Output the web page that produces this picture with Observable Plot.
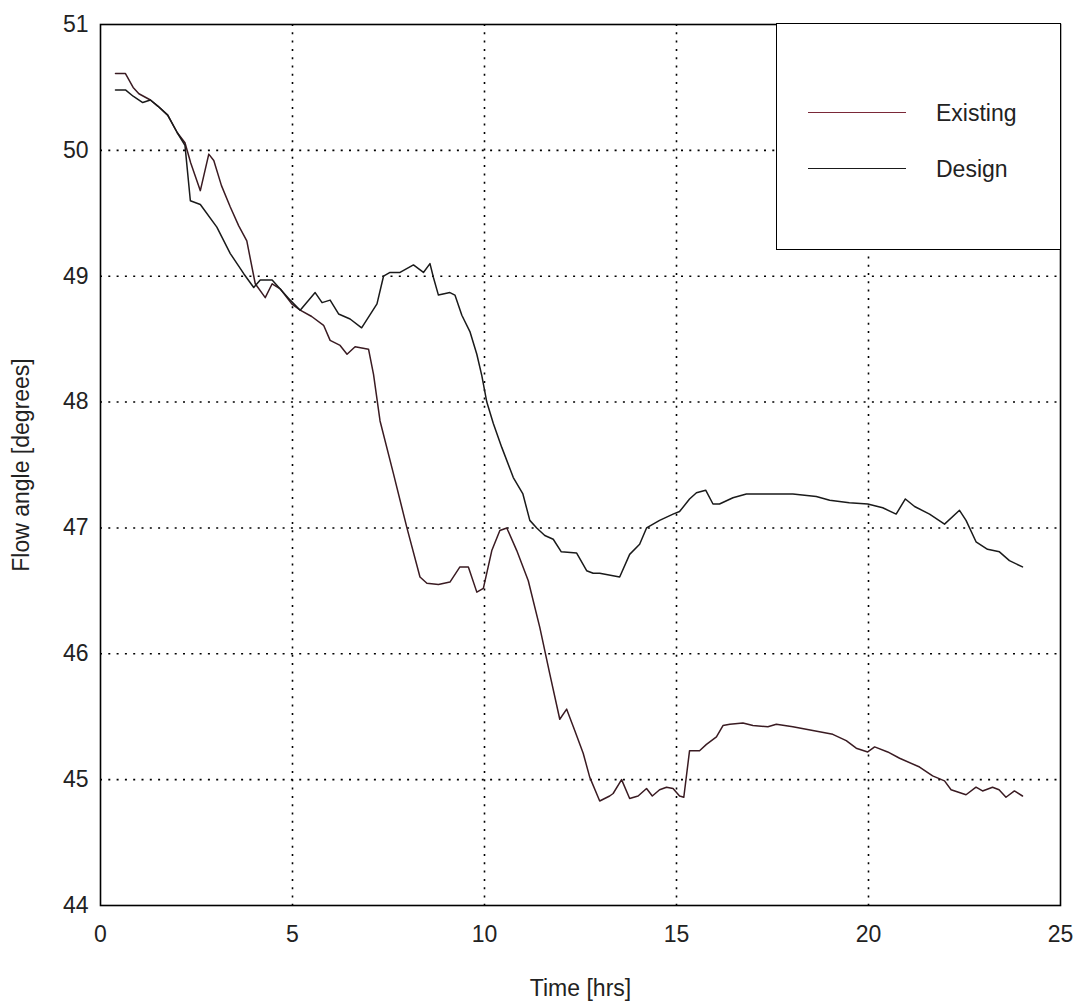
<!DOCTYPE html>
<html>
<head>
<meta charset="utf-8">
<script src="https://cdn.jsdelivr.net/npm/d3@7"></script>
<script src="https://cdn.jsdelivr.net/npm/@observablehq/plot@0.6"></script>
<style>
  html, body { margin: 0; padding: 0; background: #fff; }
  #wrap { position: relative; width: 1076px; height: 1001px; font-family: "Liberation Sans", Arial, sans-serif; }
  #legend { position: absolute; left: 776px; top: 23px; width: 285px; height: 227px; border: 1.6px solid #000; background: #fff; box-sizing: border-box; }
  .lg-row { position: absolute; left: 0; height: 30px; }
  .lg-line { position: absolute; left: 31px; width: 98px; top: 14px; height: 0; border-top: 1.5px solid #000; }
  .lg-text { position: absolute; left: 159px; top: 0; font-size: 23px; line-height: 30px; color: #222; white-space: nowrap; }
</style>
</head>
<body>
<div id="wrap">
  <div id="chart"></div>
  <div id="legend"></div>
</div>
<script>
// ---- data ----
const seriesNames = ["Existing", "Design"];
const seriesColors = ["#3a1b22", "#1a1a1a"];
const legendColors = ["#7a2838", "#1a1a1a"];

const existingTime = [0.39,0.65,0.85,1.0,1.3,1.5,1.75,2.0,2.2,2.35,2.6,2.82,2.95,3.15,3.38,3.6,3.81,4.03,4.29,4.47,4.68,4.98,5.2,5.5,5.81,5.98,6.24,6.42,6.63,6.98,7.11,7.28,7.63,7.98,8.32,8.5,8.8,9.1,9.36,9.58,9.8,9.97,10.19,10.4,10.58,10.84,11.14,11.44,11.7,11.96,12.14,12.35,12.57,12.74,13.0,13.26,13.35,13.57,13.78,14.0,14.22,14.37,14.56,14.74,14.91,15.08,15.19,15.34,15.6,15.78,16.04,16.21,16.39,16.73,16.99,17.38,17.6,18.03,18.55,19.07,19.42,19.68,19.98,20.16,20.5,20.81,21.33,21.67,21.98,22.15,22.54,22.8,22.97,23.23,23.4,23.58,23.8,24.01];
const existingAngle = [50.61,50.61,50.5,50.45,50.4,50.35,50.28,50.14,50.06,49.9,49.68,49.97,49.92,49.72,49.55,49.4,49.28,48.94,48.83,48.94,48.9,48.78,48.73,48.68,48.61,48.49,48.45,48.38,48.44,48.42,48.22,47.85,47.43,47.0,46.61,46.56,46.55,46.57,46.69,46.69,46.49,46.52,46.82,46.98,47.0,46.82,46.58,46.21,45.84,45.48,45.56,45.39,45.21,45.02,44.83,44.87,44.89,45.0,44.85,44.87,44.93,44.87,44.92,44.94,44.93,44.87,44.86,45.23,45.23,45.28,45.34,45.43,45.44,45.45,45.43,45.42,45.44,45.42,45.39,45.36,45.31,45.25,45.22,45.26,45.22,45.17,45.1,45.03,44.99,44.92,44.88,44.94,44.91,44.94,44.92,44.86,44.91,44.87];

const designTime = [0.39,0.65,0.85,1.1,1.3,1.5,1.75,2.0,2.2,2.34,2.6,3.03,3.38,3.73,3.99,4.16,4.47,4.94,5.2,5.59,5.77,5.98,6.2,6.5,6.8,7.2,7.37,7.54,7.8,8.15,8.41,8.58,8.67,8.8,9.1,9.23,9.41,9.62,9.8,9.93,10.06,10.23,10.45,10.75,11.0,11.18,11.36,11.57,11.79,12.0,12.4,12.66,12.83,13.0,13.52,13.78,14.04,14.22,14.56,14.91,15.08,15.34,15.52,15.76,15.95,16.12,16.47,16.82,17.4,18.03,18.64,18.99,19.5,19.98,20.37,20.72,20.96,21.2,21.59,21.98,22.37,22.54,22.8,23.1,23.41,23.67,24.01];
const designAngle = [50.48,50.48,50.43,50.38,50.4,50.35,50.28,50.14,50.04,49.6,49.57,49.39,49.18,49.02,48.91,48.97,48.97,48.81,48.73,48.87,48.79,48.81,48.7,48.66,48.59,48.78,49.0,49.03,49.03,49.09,49.03,49.1,48.99,48.85,48.87,48.85,48.69,48.56,48.38,48.21,48.0,47.83,47.64,47.4,47.27,47.06,47.0,46.94,46.91,46.81,46.8,46.66,46.64,46.64,46.61,46.79,46.87,47.0,47.06,47.11,47.13,47.23,47.28,47.3,47.19,47.19,47.24,47.27,47.27,47.27,47.25,47.22,47.2,47.19,47.16,47.11,47.23,47.17,47.11,47.03,47.14,47.06,46.89,46.83,46.81,46.74,46.69];

const xTicks = [0, 5, 10, 15, 20, 25];
const yTicks = [44, 45, 46, 47, 48, 49, 50, 51];

// ---- build table ----
const rows = [];
existingTime.forEach((t, i) => rows.push({series: "Existing", t, v: existingAngle[i]}));
designTime.forEach((t, i) => rows.push({series: "Design", t, v: designAngle[i]}));

const font = "Liberation Sans, Arial, sans-serif";

const chart = Plot.plot({
  width: 1076,
  height: 1001,
  marginLeft: 100,
  marginRight: 16,
  marginTop: 24,
  marginBottom: 96,
  style: {fontFamily: font, fontSize: "23px", color: "#222", background: "#fff"},
  x: {domain: [0, 25], ticks: xTicks, tickFormat: "d", tickSize: 0, tickPadding: 20, label: "Time [hrs]", labelAnchor: "center", labelOffset: 90, labelArrow: "none"},
  y: {domain: [44, 51], ticks: yTicks, tickFormat: "d", tickSize: 0, tickPadding: 12, label: "Flow angle [degrees]", labelAnchor: "center", labelOffset: 88, labelArrow: "none"},
  color: {domain: seriesNames, range: seriesColors},
  marks: [
    Plot.gridX(xTicks.slice(1, -1), {stroke: "#000", strokeOpacity: 1, strokeWidth: 1.6, strokeDasharray: "2,6.3"}),
    Plot.gridY(yTicks.slice(1, -1), {stroke: "#000", strokeOpacity: 1, strokeWidth: 1.6, strokeDasharray: "2,6.3"}),
    Plot.line(rows, {x: "t", y: "v", z: "series", stroke: "series", strokeWidth: 1.5}),
    Plot.frame({stroke: "#000", strokeWidth: 1.6})
  ]
});
document.getElementById("chart").appendChild(chart);

// ---- legend ----
const legend = document.getElementById("legend");
const rowTops = [74, 130];
seriesNames.forEach((name, i) => {
  const row = document.createElement("div");
  row.className = "lg-row";
  row.style.top = rowTops[i] + "px";
  row.style.width = "100%";
  const ln = document.createElement("div");
  ln.className = "lg-line";
  ln.style.borderTopColor = legendColors[i];
  const tx = document.createElement("div");
  tx.className = "lg-text";
  tx.textContent = name;
  row.appendChild(ln);
  row.appendChild(tx);
  legend.appendChild(row);
});
</script>
</body>
</html>
